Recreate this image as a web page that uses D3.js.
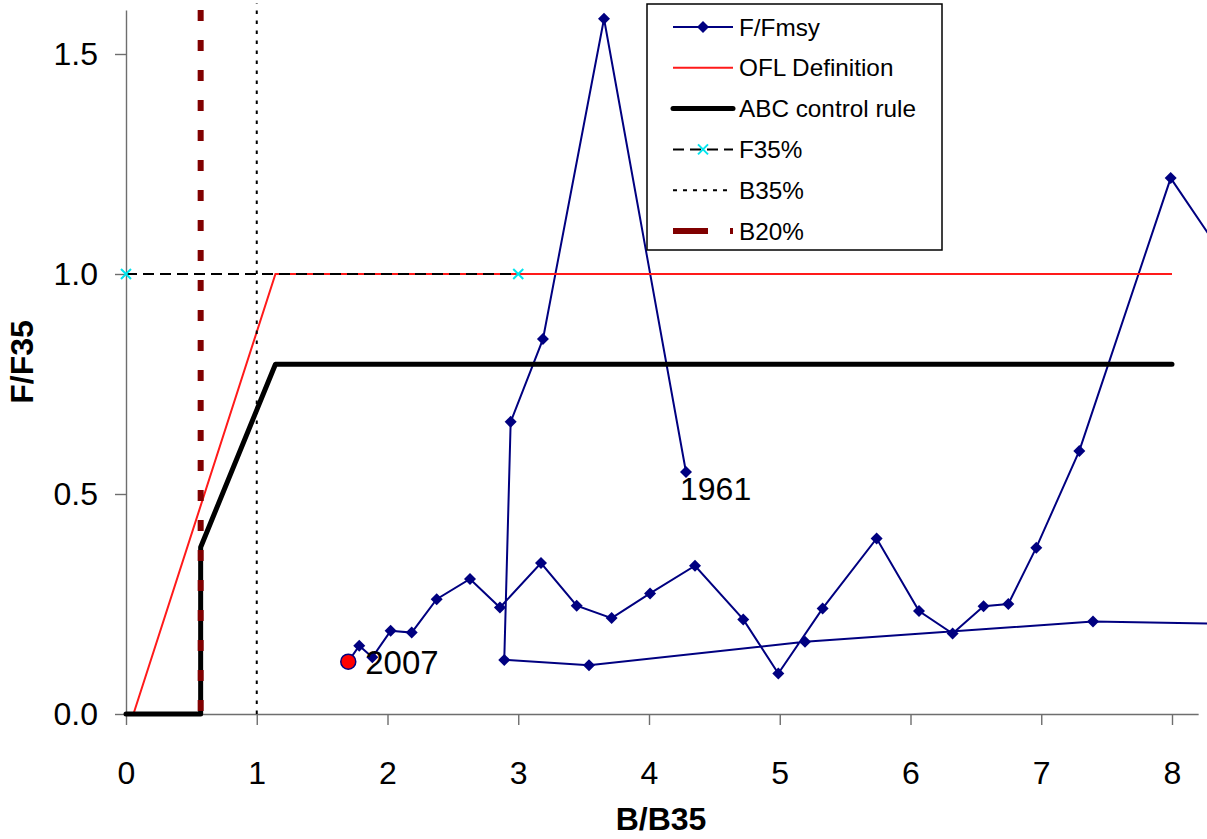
<!DOCTYPE html>
<html>
<head>
<meta charset="utf-8">
<script src="https://cdn.jsdelivr.net/npm/d3@7"></script>
<style>
  html, body { margin: 0; padding: 0; background: #fff; }
  svg { display: block; }
  text { font-family: "Liberation Sans", Arial, sans-serif; }
</style>
</head>
<body>
<svg id="chart" width="1207" height="839"></svg>
<script>
// ---------------- data ----------------
// F/Fmsy trajectory, chronological 1961 -> 2007 (B/B35, F/F35)
const trajB = [4.283, 3.656, 3.189, 2.942, 2.893, 3.541, 5.193, 7.396, 8.6, 8.6,
               7.990, 7.291, 6.962, 6.748, 6.559, 6.322, 6.065, 5.741, 5.328, 4.989,
               4.721, 4.352, 4.008, 3.714, 3.447, 3.174, 2.860, 2.631, 2.376, 2.185,
               2.024, 1.884, 1.784, 1.700];
const trajF = [0.550, 1.580, 0.852, 0.664, 0.123, 0.111, 0.164, 0.210, 0.204, 0.950,
               1.218, 0.598, 0.378, 0.250, 0.245, 0.183, 0.234, 0.399, 0.240, 0.092,
               0.215, 0.337, 0.274, 0.218, 0.246, 0.343, 0.242, 0.307, 0.261, 0.185,
               0.189, 0.129, 0.155, 0.119];
const firstYear = "1961";
const lastYear = "2007";

const oflB = [0.057, 1.143, 8.0];
const oflF = [0.0, 1.0, 1.0];

const abcB = [0.0, 0.571, 0.571, 1.143, 8.0];
const abcF = [0.0, 0.0, 0.379, 0.795, 0.795];

const f35B = [0.0, 3.0];
const f35F = [1.0, 1.0];

const b35B = [1.0, 1.0];
const b35F = [0.0, 1.615];

const b20B = [0.571, 0.571];
const b20F = [0.0, 1.615];

const xTicks = [0, 1, 2, 3, 4, 5, 6, 7, 8];
const yTicks = [0, 0.5, 1.0, 1.5];
const legendLabels = ["F/Fmsy", "OFL Definition", "ABC control rule", "F35%", "B35%", "B20%"];

// ---------------- chart ----------------
const svg = d3.select("#chart");
const x = d3.scaleLinear().domain([0, 8.2]).range([126, 126 + 8.2 * 130.75]);
const y = d3.scaleLinear().domain([0, 1.6]).range([714, 10]);

const zip = (a, b) => a.map((v, i) => [v, b[i]]);
const line = d3.line().x(d => x(d[0])).y(d => y(d[1]));

// axes
const axisColor = "#6e6e6e";
const gx = svg.append("g").attr("transform", `translate(0,${y(0)})`)
  .call(d3.axisBottom(x).tickValues(xTicks).tickFormat(d3.format("d"))
        .tickSize(11).tickSizeOuter(0).tickPadding(36));
const gy = svg.append("g").attr("transform", `translate(${x(0)},0)`)
  .call(d3.axisLeft(y).tickValues(yTicks).tickFormat(d3.format(".1f"))
        .tickSize(11).tickSizeOuter(0).tickPadding(17));
[gx, gy].forEach(g => {
  g.selectAll("path.domain").attr("stroke", axisColor).attr("stroke-width", 1.4);
  g.selectAll(".tick line").attr("stroke", axisColor).attr("stroke-width", 1.4);
  g.selectAll(".tick text").attr("fill", "#000").style("font-size", "32px")
    .style("font-family", '"Liberation Sans", Arial, sans-serif');
});

// axis titles
svg.append("text").attr("x", 661).attr("y", 830).attr("text-anchor", "middle")
  .style("font-size", "32px").style("font-weight", "bold").text("B/B35");
svg.append("text").attr("transform", "translate(33,362) rotate(-90)")
  .attr("text-anchor", "middle")
  .style("font-size", "32px").style("font-weight", "bold").text("F/F35");

// F/Fmsy trajectory
const navy = "#000080";
const traj = zip(trajB, trajF);
svg.append("path").attr("d", line(traj)).attr("fill", "none")
  .attr("stroke", navy).attr("stroke-width", 2);
const diamond = d3.symbol().type(d3.symbolSquare).size(72);
svg.append("g").selectAll("path").data(traj.slice(0, -1)).join("path")
  .attr("d", diamond)
  .attr("transform", d => `translate(${x(d[0])},${y(d[1])}) rotate(45)`)
  .attr("fill", navy);

// OFL definition
svg.append("path").attr("d", line(zip(oflB, oflF))).attr("fill", "none")
  .attr("stroke", "#ff1a1a").attr("stroke-width", 2);

// ABC control rule
svg.append("path").attr("d", line(zip(abcB, abcF))).attr("fill", "none")
  .attr("stroke", "#000").attr("stroke-width", 5)
  .attr("stroke-linejoin", "round").attr("stroke-linecap", "round");

// F35%
const f35 = zip(f35B, f35F);
svg.append("path").attr("d", line(f35)).attr("fill", "none")
  .attr("stroke", "#000").attr("stroke-width", 2).attr("stroke-dasharray", "11,6");
function drawX(g, cx, cy) {
  g.append("path").attr("d", `M${cx - 5},${cy - 5}L${cx + 5},${cy + 5}M${cx - 5},${cy + 5}L${cx + 5},${cy - 5}`)
    .attr("stroke", "#00e5ee").attr("stroke-width", 2);
}
f35.forEach(d => drawX(svg, x(d[0]), y(d[1])));

// B35%
svg.append("path").attr("d", line(zip(b35B, b35F))).attr("fill", "none")
  .attr("stroke", "#000").attr("stroke-width", 2).attr("stroke-dasharray", "3.5,6.5");

// B20%
svg.append("path").attr("d", line(zip(b20B, b20F))).attr("fill", "none")
  .attr("stroke", "#800000").attr("stroke-width", 6).attr("stroke-dasharray", "11,19")
  .attr("stroke-dashoffset", -3);

// latest year point
const last = traj[traj.length - 1];
svg.append("circle").attr("cx", x(last[0])).attr("cy", y(last[1])).attr("r", 7.5)
  .attr("fill", "#ff0000").attr("stroke", navy).attr("stroke-width", 1.5);

// year labels
svg.append("text").attr("x", x(last[0]) + 17).attr("y", y(last[1]) + 12)
  .style("font-size", "33px").text(lastYear);
svg.append("text").attr("x", x(traj[0][0]) - 6).attr("y", y(traj[0][1]) + 28)
  .style("font-size", "32px").text(firstYear);

// legend
const lg = svg.append("g");
lg.append("rect").attr("x", 647).attr("y", 4).attr("width", 295).attr("height", 246)
  .attr("fill", "#fff").attr("stroke", "#000").attr("stroke-width", 1.5);
const rowY = i => 27 + i * 40.8;
const lx0 = 673, lx1 = 733;
legendLabels.forEach((lab, i) => {
  const ry = rowY(i);
  lg.append("text").attr("x", 739).attr("y", ry + 8.5).style("font-size", "24.3px").text(lab);
});
// sample F/Fmsy
lg.append("line").attr("x1", lx0).attr("x2", lx1).attr("y1", rowY(0)).attr("y2", rowY(0))
  .attr("stroke", navy).attr("stroke-width", 2);
lg.append("path").attr("d", diamond)
  .attr("transform", `translate(${(lx0 + lx1) / 2},${rowY(0)}) rotate(45)`).attr("fill", navy);
// OFL
lg.append("line").attr("x1", lx0).attr("x2", lx1).attr("y1", rowY(1)).attr("y2", rowY(1))
  .attr("stroke", "#ff1a1a").attr("stroke-width", 2);
// ABC
lg.append("line").attr("x1", lx0).attr("x2", lx1).attr("y1", rowY(2)).attr("y2", rowY(2))
  .attr("stroke", "#000").attr("stroke-width", 5).attr("stroke-linecap", "round");
// F35
lg.append("line").attr("x1", lx0).attr("x2", lx1).attr("y1", rowY(3)).attr("y2", rowY(3))
  .attr("stroke", "#000").attr("stroke-width", 2).attr("stroke-dasharray", "11,6");
drawX(lg, (lx0 + lx1) / 2, rowY(3));
// B35
lg.append("line").attr("x1", lx0).attr("x2", lx1).attr("y1", rowY(4)).attr("y2", rowY(4))
  .attr("stroke", "#000").attr("stroke-width", 2).attr("stroke-dasharray", "4,6");
// B20
lg.append("line").attr("x1", lx0).attr("x2", lx1).attr("y1", rowY(5)).attr("y2", rowY(5))
  .attr("stroke", "#800000").attr("stroke-width", 6).attr("stroke-dasharray", "35,22,3,40");
</script>
</body>
</html>
